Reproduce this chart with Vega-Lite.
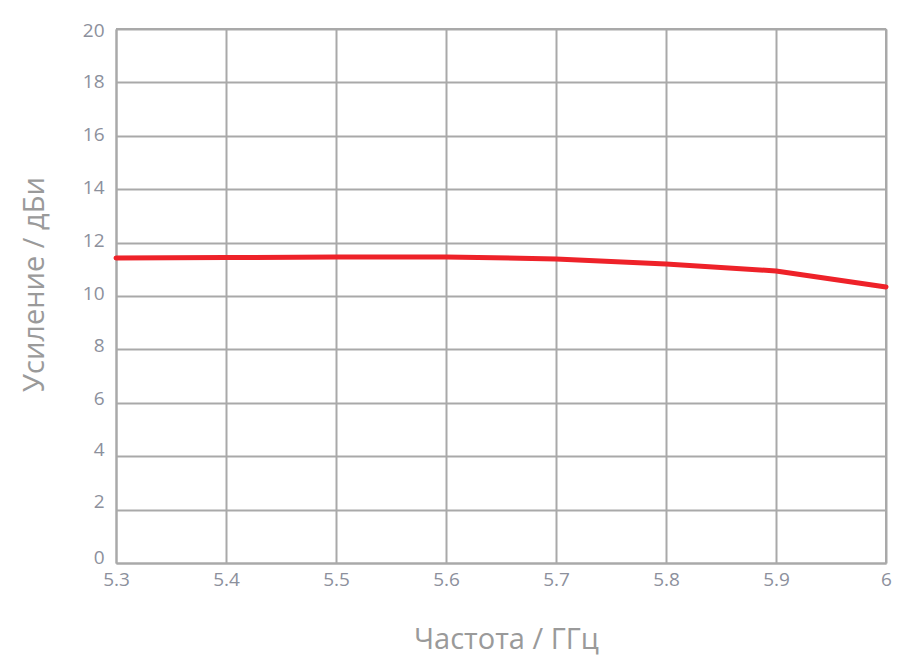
{
  "$schema": "https://vega.github.io/schema/vega-lite/v6.json",
  "width": 770,
  "height": 534,
  "autosize": {"type": "none"},
  "padding": {"left": 116, "top": 29, "right": 25, "bottom": 99},
  "background": "white",
  "config": {
    "view": {"stroke": null},
    "font": "Open Sans",
    "axis": {
      "grid": true,
      "gridColor": "#a9a9a9",
      "gridWidth": 2,
      "gridOpacity": 1,
      "domainColor": "#a9a9a9",
      "domainWidth": 2,
      "ticks": false,
      "labelColor": "#8c909c",
      "labelFont": "Open Sans",
      "labelFontSize": 19,
      "titleColor": "#9a9a9a",
      "titleFont": "Open Sans",
      "titleFontSize": 29,
      "titleFontWeight": "normal"
    }
  },
  "data": {
    "values": [
      {"f": 5.3, "g": 11.42},
      {"f": 5.4, "g": 11.44},
      {"f": 5.5, "g": 11.46},
      {"f": 5.6, "g": 11.46},
      {"f": 5.7, "g": 11.39},
      {"f": 5.8, "g": 11.2},
      {"f": 5.9, "g": 10.94},
      {"f": 6.0, "g": 10.34}
    ]
  },
  "layer": [
    {
      "mark": {"type": "rule", "color": "#a9a9a9", "strokeWidth": 2},
      "encoding": {"x": {"datum": 6.0, "type": "quantitative"}}
    },
    {
      "mark": {"type": "rule", "color": "#a9a9a9", "strokeWidth": 2},
      "encoding": {"y": {"datum": 20, "type": "quantitative"}}
    },
    {
      "mark": {"type": "line", "color": "#ee2229", "strokeWidth": 5, "strokeCap": "round", "strokeJoin": "round"},
      "encoding": {
        "x": {
          "field": "f",
          "type": "quantitative",
          "scale": {"domain": [5.3, 6.0], "nice": false, "zero": false},
          "axis": {
            "grid": true,
            "title": "Частота / ГГц",
            "values": [5.3, 5.4, 5.5, 5.6, 5.7, 5.8, 5.9, 6.0],
            "labelExpr": "datum.value == 6 ? '6' : format(datum.value, '.1f')",
            "labelPadding": 7,
            "labelFlush": false,
            "titlePadding": 36,
            "titleX": 390
          }
        },
        "y": {
          "field": "g",
          "type": "quantitative",
          "scale": {"domain": [0, 20], "nice": false},
          "axis": {
            "grid": true,
            "title": "Усиление / дБи",
            "values": [0, 2, 4, 6, 8, 10, 12, 14, 16, 18, 20],
            "labelPadding": 12,
            "labelFlush": false,
            "labelOffset": {
              "condition": [
                {"test": "datum.value == 20", "value": 1},
                {"test": "datum.value == 18", "value": -1},
                {"test": "datum.value == 16", "value": -1.5},
                {"test": "datum.value == 14", "value": -2},
                {"test": "datum.value == 12", "value": -2.5},
                {"test": "datum.value == 10", "value": -3},
                {"test": "datum.value == 8", "value": -4},
                {"test": "datum.value == 6", "value": -4.5},
                {"test": "datum.value == 4", "value": -6.5},
                {"test": "datum.value == 2", "value": -8},
                {"test": "datum.value == 0", "value": -6}
              ],
              "value": 0
            },
            "titlePadding": 33,
            "titleY": 255
          }
        }
      }
    }
  ]
}
